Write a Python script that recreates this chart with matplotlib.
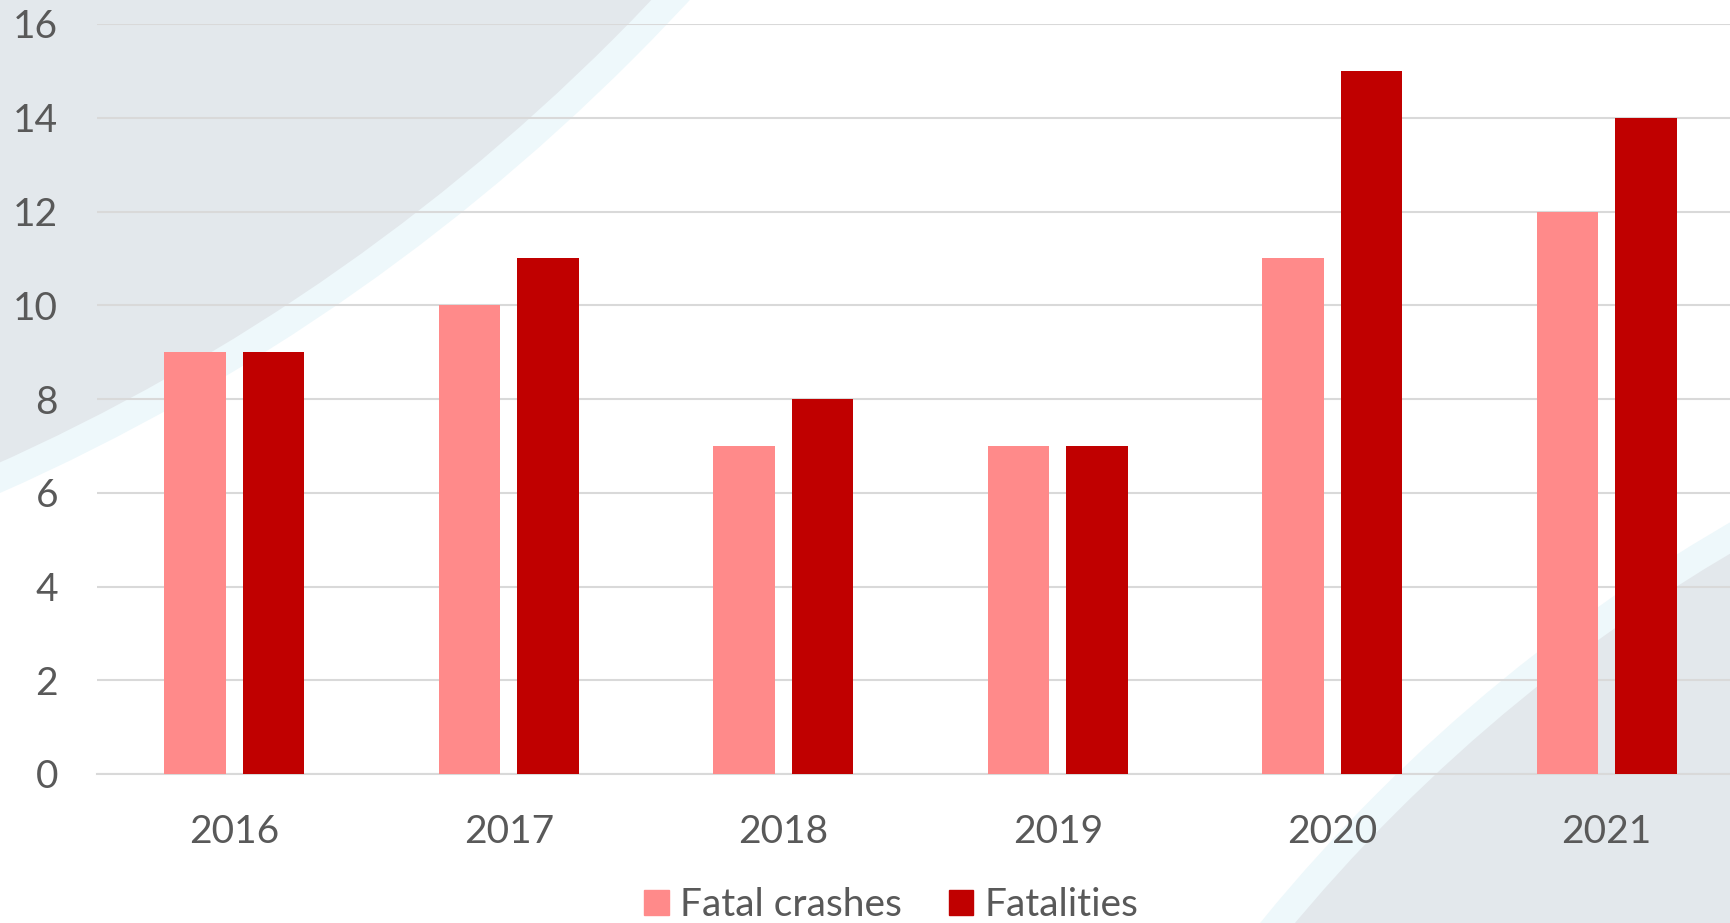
import numpy as np
import matplotlib
matplotlib.use("Agg")
import matplotlib.pyplot as plt
from matplotlib.patches import Circle, Patch

plt.rcParams['font.family'] = ['Lato', 'DejaVu Sans']

years = ['2016', '2017', '2018', '2019', '2020', '2021']
fatal_crashes = [9, 10, 7, 7, 11, 12]
fatalities = [9, 11, 8, 7, 15, 14]

pink = '#FF8A8A'
dark = '#C00000'
txt = '#595959'
W, H = 1731, 923

fig = plt.figure(figsize=(W / 100, H / 100), dpi=100)
fig.patch.set_facecolor('white')

# background decoration (pixel coords, y from bottom)
def circ(cx, cy, r, color):
    fig.patches.append(Circle((cx, H - cy), r, transform=None, facecolor=color,
                              edgecolor='none', zorder=-10))

circ(-850, -1425, 2098, '#EEF8FB')
circ(-850, -1425, 2070, '#E3E8EC')
circ(2588, 2005, 1713, '#EEF8FB')
circ(2588, 2005, 1686, '#E3E8EC')

ax = fig.add_axes([97 / W, 149 / H, 1647 / W, 750 / H])
ax.patch.set_alpha(0)

x = np.arange(len(years))
w = 0.225
ax.bar(x - 0.143, fatal_crashes, w, color=pink, zorder=3, label='Fatal crashes')
ax.bar(x + 0.143, fatalities, w, color=dark, zorder=3, label='Fatalities')

ax.set_xlim(-0.5, 5.5)
ax.set_ylim(0, 16)
ax.set_yticks(range(0, 17, 2))
ax.set_xticks(x)
ax.set_xticklabels(years)
ax.grid(axis='y', color='#D9D9D9', linewidth=1.5, zorder=0)
ax.set_axisbelow(True)
for s in ['top', 'right', 'left']:
    ax.spines[s].set_visible(False)
ax.spines['bottom'].set_color('#D9D9D9')
ax.spines['bottom'].set_linewidth(1.5)
ax.tick_params(axis='both', length=0, labelsize=28, labelcolor=txt)
ax.tick_params(axis='y', pad=28)
ax.tick_params(axis='x', pad=29)

handles = [Patch(color=pink), Patch(color=dark)]
fig.legend(handles, ['Fatal crashes', 'Fatalities'], loc='center',
           bbox_to_anchor=(0.515, 0.019), ncol=2, frameon=False, fontsize=28,
           labelcolor=txt, handlelength=0.62, handleheight=0.62,
           handletextpad=0.3, columnspacing=1.2)

fig.savefig('out.png', dpi=100)
